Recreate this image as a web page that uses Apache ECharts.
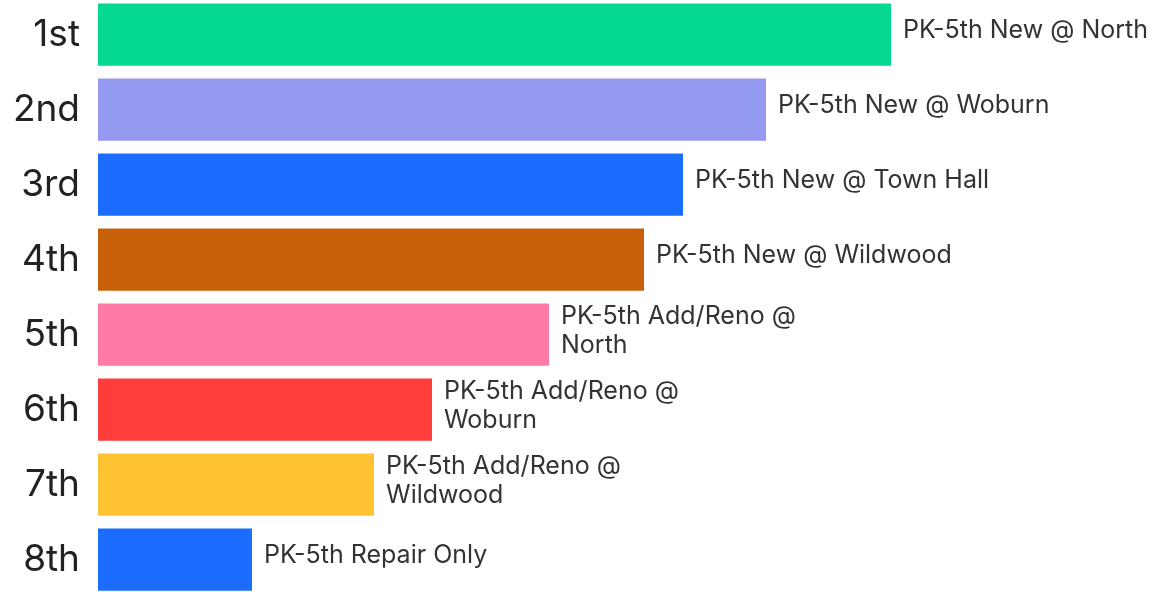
<!DOCTYPE html>
<html>
<head>
<meta charset="utf-8">
<script src="https://cdn.jsdelivr.net/npm/echarts@6/dist/echarts.min.js"></script>
<style>
html,body{margin:0;padding:0;background:#fff;overflow:hidden;}
#c{width:1169px;height:600px;margin-top:-3px;}
</style>
</head>
<body>
<div id="c"></div>
<script>
const ranks = ['1st','2nd','3rd','4th','5th','6th','7th','8th'];
const options = ['PK-5th New @ North','PK-5th New @ Woburn','PK-5th New @ Town Hall','PK-5th New @ Wildwood','PK-5th Add/Reno @\nNorth','PK-5th Add/Reno @\nWoburn','PK-5th Add/Reno @\nWildwood','PK-5th Repair Only'];
const scores = [793, 668, 585, 546, 451, 334, 276, 154];
const colors = ['#04D891','#9499F0','#1B6CFF','#C8600A','#FF7BA6','#FF3E3B','#FFC233','#1B6CFF'];

const chart = echarts.init(document.getElementById('c'));
chart.setOption({
  animation: false,
  grid: {left: 98, right: 0, top: 0, bottom: 0, containLabel: false},
  xAxis: {type: 'value', min: 0, max: 1071, show: false},
  yAxis: {
    type: 'category', data: ranks, inverse: true,
    axisLine: {show: false}, axisTick: {show: false},
    axisLabel: {fontSize: 37, color: '#222', fontFamily: 'Inter', margin: 18}
  },
  series: [{
    type: 'bar',
    barCategoryGap: '17%',
    data: scores.map((v, i) => ({value: v, name: options[i], itemStyle: {color: colors[i]}})),
    label: {
      show: true, position: 'right', distance: 12,
      formatter: p => options[p.dataIndex],
      fontSize: 25, color: '#333', fontFamily: 'Inter', lineHeight: 29,
      offset: [0, -4]
    }
  }]
});
</script>
</body>
</html>
